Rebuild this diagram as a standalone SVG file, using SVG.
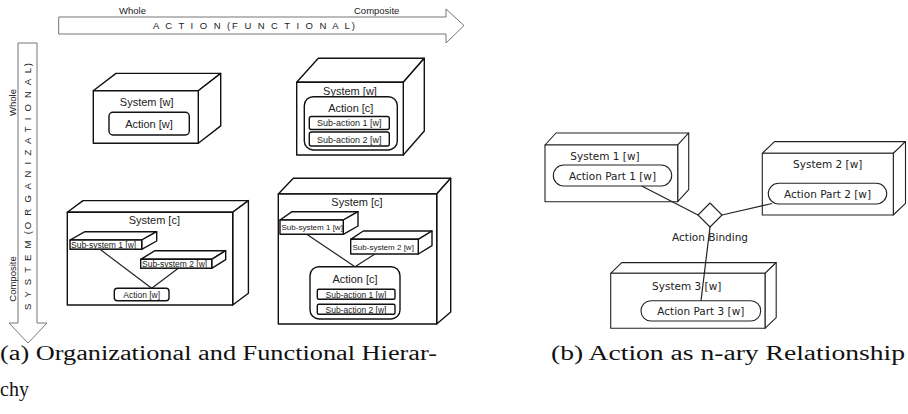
<svg xmlns="http://www.w3.org/2000/svg" width="908" height="414" viewBox="0 0 908 414">
<style>
.bg{fill:#fff}
.arrow{fill:#fff;stroke:#777;stroke-width:1}
.box{fill:#fff;stroke:#111;stroke-width:1.4;stroke-linejoin:round}
.thin{fill:#fff;stroke:#222;stroke-width:1.1;stroke-linejoin:round}
.conn{fill:none;stroke:#222;stroke-width:1.2}
.t{font-family:"Liberation Sans","Open Sans",sans-serif;fill:#222}
.tb{font-family:"DejaVu Sans","Liberation Sans",sans-serif;fill:#222;font-size:10.5px;text-anchor:middle}
.cap{font-family:"Liberation Serif","DejaVu Serif",serif;fill:#111;font-size:20px}
.m{text-anchor:middle}
.u{text-decoration:underline}
</style>
<rect class="bg" x="0" y="0" width="908" height="414"/>

<g id="axis-action">
<path class="arrow" d="M58.7,17 L446,17 L446,9 L464,25.5 L446,43 L446,34 L58.7,34 Z"/>
<text class="t" x="119" y="14" font-size="9.5">Whole</text>
<text class="t" x="354" y="14" font-size="9.5">Composite</text>
<text class="t" x="153" y="29" font-size="9.5" textLength="202" lengthAdjust="spacing">A C T I O N (F U N C T I O N A L)</text>
</g>

<g id="axis-system">
<path class="arrow" d="M18,43 L37,43 L37,323 L47,323 L28,343 L9,323 L18,323 Z"/>
<text class="t m" transform="translate(16,102.5) rotate(-90)" font-size="9.5">Whole</text>
<text class="t m" transform="translate(16,279) rotate(-90)" font-size="9.5">Composite</text>
<text class="t m" transform="translate(31,186.5) rotate(-90)" font-size="9.5" textLength="247" lengthAdjust="spacing">S Y S T E M (O R G A N I Z A T I O N A L)</text>
</g>

<g id="sys-w-action-w">
<polygon class="box" points="93.3,90.7 116,73.4 220.7,73.4 198.3,90.7"/>
<polygon class="box" points="198.3,90.7 220.7,73.4 220.7,125.9 198.3,143.3"/>
<rect class="box" x="93.3" y="90.7" width="105" height="52.6"/>
<text class="t m" x="146.7" y="106" font-size="11">System [w]</text>
<rect class="box" x="109" y="112.3" width="80.3" height="22.7" rx="4"/>
<text class="t m" x="149" y="127.5" font-size="11">Action [w]</text>
</g>

<g id="sys-w-action-c">
<polygon class="box" points="296.7,82.3 318.3,58.3 424.3,58.3 403.3,82.3"/>
<polygon class="box" points="403.3,82.3 424.3,58.3 424.3,131 403.3,155"/>
<rect class="box" x="296.7" y="82.3" width="106.6" height="72.7"/>
<text class="t m" x="350" y="94.5" font-size="11">System [w]</text>
<rect class="box" x="304.3" y="96.7" width="93" height="53.3" rx="9"/>
<text class="t m" x="350.8" y="111.5" font-size="11">Action [c]</text>
<rect class="box" x="309.3" y="116.5" width="80" height="13" rx="2"/>
<text class="t m" x="349.3" y="126.3" font-size="9">Sub-action 1 [w]</text>
<rect class="box" x="309.3" y="132" width="80" height="14" rx="2"/>
<text class="t m" x="349.3" y="142.5" font-size="9">Sub-action 2 [w]</text>
</g>

<g id="sys-c-action-w">
<polygon class="box" points="67.3,212.3 83,200.6 248.4,200.6 232.7,212.3"/>
<polygon class="box" points="232.7,212.3 248.4,200.6 248.4,293.3 232.7,305"/>
<rect class="box" x="67.3" y="212.3" width="165.4" height="92.7"/>
<text class="t m" x="154.3" y="223.5" font-size="11">System [c]</text>
<g id="b3-subsystem-1">
<polygon class="box" points="70,240 85,231.7 156.7,231.7 141.7,240"/>
<polygon class="box" points="141.7,240 156.7,231.7 156.7,241 141.7,249.3"/>
<rect class="box" x="70" y="240" width="71.7" height="9.3"/>
<text class="t u" x="71" y="247.8" font-size="8.5">Sub-system 1 [w]</text>
</g>
<g id="b3-subsystem-2">
<polygon class="box" points="140.7,259.3 155,250.7 225.7,250.7 211.7,259.3"/>
<polygon class="box" points="211.7,259.3 225.7,250.7 225.7,259.7 211.7,268.3"/>
<rect class="box" x="140.7" y="259.3" width="71" height="9"/>
<text class="t u" x="142" y="266.8" font-size="8.5">Sub-system 2 [w]</text>
</g>
<g id="b3-action">
<rect class="box" x="114.3" y="288.3" width="54.7" height="12.4" rx="3"/>
<text class="t m" x="141.7" y="297.5" font-size="8.5">Action [w]</text>
</g>
</g>

<g id="sys-c-action-c">
<polygon class="box" points="278.3,194 293.3,178.3 450.7,178.3 436.7,194"/>
<polygon class="box" points="436.7,194 450.7,178.3 450.7,312 436.7,324"/>
<rect class="box" x="278.3" y="194" width="158.4" height="130"/>
<text class="t m" x="357" y="205.5" font-size="11">System [c]</text>
<g id="b4-subsystem-1">
<polygon class="box" points="280,220 292,211.7 358,211.7 343.3,220"/>
<polygon class="box" points="343.3,220 358,211.7 358,226 343.3,234.3"/>
<rect class="box" x="280" y="220" width="63.3" height="14.3"/>
<text class="t" x="281.5" y="230.3" font-size="8">Sub-system 1 [w]</text>
</g>
<g id="b4-subsystem-2">
<polygon class="box" points="350.7,239.3 363.3,231 432,231 418.3,239.3"/>
<polygon class="box" points="418.3,239.3 432,231 432,245.7 418.3,254"/>
<rect class="box" x="350.7" y="239.3" width="67.6" height="14.7"/>
<text class="t" x="352.5" y="249.8" font-size="8">Sub-system 2 [w]</text>
</g>
<g id="b4-action">
<rect class="box" x="310" y="266.7" width="90" height="52.3" rx="9"/>
<text class="t m" x="355" y="282.5" font-size="11">Action [c]</text>
<rect class="box" x="317.3" y="289.3" width="77.7" height="10" rx="1.5"/>
<text class="t m u" x="356" y="297.8" font-size="8.5">Sub-action 1 [w]</text>
<rect class="box" x="317.3" y="304.3" width="77.7" height="10" rx="1.5"/>
<text class="t m u" x="356" y="312.8" font-size="8.5">Sub-action 2 [w]</text>
</g>
</g>

<g id="system-1">
<polygon class="thin" points="545,145 556,133 688.7,133 677.7,145"/>
<polygon class="thin" points="677.7,145 688.7,133 688.7,189.7 677.7,201.7"/>
<rect class="thin" x="545" y="145" width="132.7" height="56.7"/>
<text class="tb" x="605" y="160">System 1 [w]</text>
<rect class="thin" x="553.3" y="165" width="118.4" height="21" rx="10.5"/>
<text class="tb" x="612.5" y="179.5">Action Part 1 [w]</text>
</g>

<g id="system-2">
<polygon class="thin" points="762.3,153.3 774.5,141.6 905.5,141.6 893.3,153.3"/>
<polygon class="thin" points="893.3,153.3 905.5,141.6 905.5,203.3 893.3,215"/>
<rect class="thin" x="762.3" y="153.3" width="131" height="61.7"/>
<text class="tb" x="827.7" y="168">System 2 [w]</text>
<rect class="thin" x="768.3" y="183.3" width="118.4" height="20.7" rx="10.3"/>
<text class="tb" x="827.5" y="197.5">Action Part 2 [w]</text>
</g>

<g id="system-3">
<polygon class="thin" points="610.7,273.3 621.7,262.6 776.2,262.6 765,273.3"/>
<polygon class="thin" points="765,273.3 776.2,262.6 776.2,317.6 765,328.3"/>
<rect class="thin" x="610.7" y="273.3" width="154.3" height="55"/>
<text class="tb" x="686.7" y="290">System 3 [w]</text>
<rect class="thin" x="641" y="300.7" width="119.7" height="20.3" rx="10"/>
<text class="tb" x="700.8" y="315">Action Part 3 [w]</text>
</g>

<g id="connectors">
<line class="conn" x1="100" y1="249.3" x2="151.7" y2="288.3"/>
<line class="conn" x1="178.3" y1="268.3" x2="151.7" y2="288.3"/>
<line class="conn" x1="306.7" y1="234.3" x2="355" y2="266.7"/>
<line class="conn" x1="375" y1="254" x2="355" y2="266.7"/>
<line class="conn" x1="641.7" y1="186" x2="698" y2="215"/>
<line class="conn" x1="722" y1="215" x2="772" y2="203.5"/>
<line class="conn" x1="710" y1="227" x2="701" y2="300.7"/>
</g>

<g id="action-binding">
<polygon class="thin" points="710,203 722,215 710,227 698,215"/>
<text class="tb" x="710" y="241">Action Binding</text>
</g>

<g id="captions">
<text class="cap" x="0" y="360" textLength="437" lengthAdjust="spacingAndGlyphs">(a) Organizational and Functional Hierar-</text>
<text class="cap" x="0" y="396">chy</text>
<text class="cap" x="551" y="360" textLength="354" lengthAdjust="spacingAndGlyphs">(b) Action as n-ary Relationship</text>
</g>
</svg>
